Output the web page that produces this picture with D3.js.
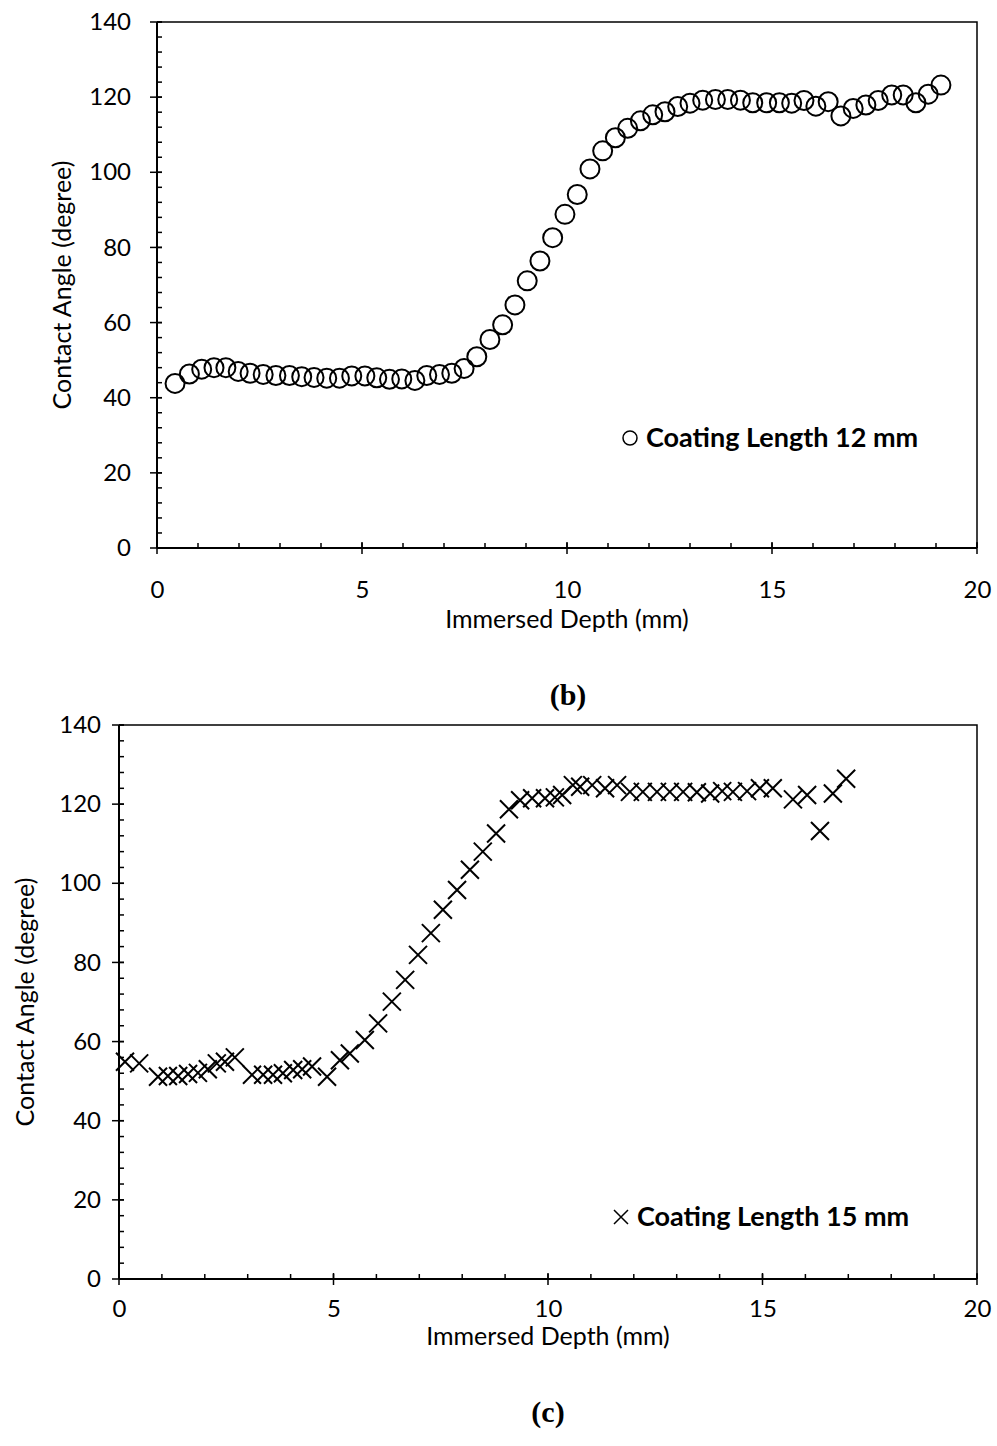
<!DOCTYPE html>
<html>
<head>
<meta charset="utf-8">
<script src="https://cdn.jsdelivr.net/npm/d3@7"></script>
<style>
  html, body { margin: 0; padding: 0; background: #fff; }
  svg { display: block; }
  .tick text { font-family: Lato, "Open Sans", sans-serif; fill: #000; }
</style>
</head>
<body>
<svg id="fig" width="997" height="1446"></svg>
<script>
// Panel (b): coating length 12 mm
const depthB = [0.44, 0.79, 1.09, 1.39, 1.68, 1.98, 2.27, 2.59, 2.90, 3.23, 3.53, 3.83, 4.14, 4.45, 4.75,
  5.07, 5.36, 5.67, 5.97, 6.29, 6.58, 6.89, 7.19, 7.49, 7.80, 8.12, 8.43, 8.73, 9.03, 9.34, 9.65, 9.95,
  10.25, 10.56, 10.87, 11.18, 11.48, 11.79, 12.09, 12.39, 12.70, 13.00, 13.31, 13.62, 13.92, 14.23, 14.53,
  14.87, 15.18, 15.48, 15.78, 16.07, 16.37, 16.68, 16.98, 17.29, 17.59, 17.92, 18.20, 18.51, 18.81, 19.12];
const angleB = [43.8, 46.3, 47.6, 48.0, 48.0, 47.0, 46.5, 46.2, 45.9, 45.9, 45.6, 45.4, 45.2, 45.2, 45.8,
  45.8, 45.3, 44.9, 45.0, 44.6, 45.9, 46.2, 46.5, 47.8, 50.9, 55.5, 59.4, 64.7, 71.1, 76.4, 82.6, 88.8,
  94.1, 100.9, 105.7, 109.2, 111.7, 113.7, 115.3, 116.1, 117.5, 118.4, 119.2, 119.4, 119.4, 119.2, 118.5,
  118.5, 118.5, 118.4, 119.1, 117.6, 118.8, 115.0, 117.0, 117.9, 119.1, 120.6, 120.6, 118.5, 120.8, 123.2];

// Panel (c): coating length 15 mm
const depthC = [0.14, 0.47, 0.91, 1.14, 1.38, 1.61, 1.84, 2.07, 2.28, 2.47, 2.70, 3.10, 3.36, 3.59, 3.82,
  4.06, 4.27, 4.50, 4.85, 5.15, 5.38, 5.73, 6.04, 6.36, 6.67, 6.97, 7.27, 7.55, 7.88, 8.18, 8.48, 8.79,
  9.09, 9.35, 9.63, 9.93, 10.16, 10.33, 10.58, 10.75, 11.03, 11.33, 11.61, 11.91, 12.21, 12.54, 12.84,
  13.15, 13.47, 13.78, 14.06, 14.31, 14.64, 14.94, 15.24, 15.71, 16.04, 16.34, 16.64, 16.95];
const angleC = [54.9, 54.5, 51.1, 51.3, 51.3, 51.8, 52.1, 53.0, 54.5, 54.9, 56.0, 51.6, 51.6, 51.6, 52.0,
  52.8, 53.0, 53.7, 51.1, 55.3, 57.0, 60.4, 64.6, 70.1, 75.6, 81.9, 87.4, 93.3, 98.3, 103.4, 108.0, 112.6,
  118.7, 121.0, 121.5, 121.5, 121.7, 122.3, 124.8, 124.4, 124.8, 124.0, 124.8, 123.1, 123.1, 123.1, 123.1,
  123.1, 123.0, 122.7, 123.3, 123.1, 123.3, 124.0, 124.0, 121.2, 122.3, 113.2, 122.7, 126.4];

const xTicks = [0, 5, 10, 15, 20];
const yTicks = [0, 20, 40, 60, 80, 100, 120, 140];
const xMinor = d3.range(0, 21, 1);
const yMinor = d3.range(0, 141, 4);
const xTitle = "Immersed Depth (mm)";
const yTitle = "Contact Angle (degree)";

const svg = d3.select("#fig");
const FONT = "Lato, 'Open Sans', sans-serif";
const TICK_FS = 24;
const TITLE_FS = 25;

function panel(cfg) {
  const x = d3.scaleLinear().domain([0, 20]).range([cfg.left, cfg.right]);
  const y = d3.scaleLinear().domain([0, 140]).range([cfg.bottom, cfg.top]);
  const g = svg.append("g");

  // frame (top and right edges of plot area)
  g.append("path")
    .attr("d", `M${x(0)},${y(140)}H${x(20)}V${y(0)}`)
    .attr("fill", "none").attr("stroke", "#000").attr("stroke-width", 1.5);

  // minor ticks (inside)
  g.selectAll(".mx").data(xMinor).join("line")
    .attr("x1", d => x(d)).attr("x2", d => x(d))
    .attr("y1", y(0)).attr("y2", y(0) - 5)
    .attr("stroke", "#000").attr("stroke-width", 1.5);
  g.selectAll(".my").data(yMinor).join("line")
    .attr("x1", x(0)).attr("x2", x(0) + 5)
    .attr("y1", d => y(d)).attr("y2", d => y(d))
    .attr("stroke", "#000").attr("stroke-width", 1.5);

  // major ticks crossing the axes
  g.selectAll(".Mx").data(xTicks).join("line")
    .attr("x1", d => x(d)).attr("x2", d => x(d))
    .attr("y1", y(0) - 6).attr("y2", y(0) + 6)
    .attr("stroke", "#000").attr("stroke-width", 1.5);
  g.selectAll(".My").data(yTicks).join("line")
    .attr("x1", x(0) - 7).attr("x2", x(0) + 5)
    .attr("y1", d => y(d)).attr("y2", d => y(d))
    .attr("stroke", "#000").attr("stroke-width", 1.5);

  // axis labels via d3 axes (tick lines hidden, drawn above)
  const ax = g.append("g").attr("transform", `translate(0,${y(0)})`)
    .call(d3.axisBottom(x).tickValues(xTicks).tickSize(0).tickPadding(cfg.xPad));
  ax.select(".domain").remove();
  ax.selectAll("text").attr("font-size", TICK_FS).attr("font-family", FONT);
  const ay = g.append("g").attr("transform", `translate(${x(0)},0)`)
    .call(d3.axisLeft(y).tickValues(yTicks).tickSize(0).tickPadding(cfg.yPad));
  ay.select(".domain").remove();
  ay.selectAll("text").attr("font-size", TICK_FS).attr("font-family", FONT);

  // axis lines
  g.append("line").attr("x1", x(0)).attr("x2", x(20)).attr("y1", y(0)).attr("y2", y(0))
    .attr("stroke", "#000").attr("stroke-width", 2);
  g.append("line").attr("x1", x(0)).attr("x2", x(0)).attr("y1", y(0)).attr("y2", y(140))
    .attr("stroke", "#000").attr("stroke-width", 2);

  // axis titles
  g.append("text").attr("x", x(10)).attr("y", cfg.xTitleY)
    .attr("text-anchor", "middle").attr("font-family", FONT).attr("font-size", TITLE_FS)
    .text(xTitle);
  g.append("text")
    .attr("transform", `translate(${cfg.yTitleX},${y(70)}) rotate(-90)`)
    .attr("text-anchor", "middle").attr("font-family", FONT).attr("font-size", TITLE_FS)
    .text(yTitle);

  return { g, x, y };
}

function cross(sel, s) {
  return sel.attr("d", `M${-s},${-s}L${s},${s}M${-s},${s}L${s},${-s}`);
}

// ---- panel (b)
const pb = panel({ left: 157, right: 977, top: 22, bottom: 548, xPad: 33, yPad: 26, xTitleY: 628, yTitleX: 71 });
pb.g.selectAll(".pt").data(depthB.map((d, i) => [d, angleB[i]])).join("circle")
  .attr("cx", d => pb.x(d[0])).attr("cy", d => pb.y(d[1])).attr("r", 9.5)
  .attr("fill", "none").attr("stroke", "#000").attr("stroke-width", 2);
pb.g.append("circle").attr("cx", 630).attr("cy", 438).attr("r", 7)
  .attr("fill", "none").attr("stroke", "#000").attr("stroke-width", 1.5);
pb.g.append("text").attr("x", 646).attr("y", 447).attr("font-family", FONT)
  .attr("font-weight", "bold").attr("font-size", 27).text("Coating Length 12 mm");

svg.append("text").attr("x", 568).attr("y", 705).attr("text-anchor", "middle")
  .attr("font-family", "'Liberation Serif', 'Times New Roman', serif").attr("font-weight", "bold")
  .attr("font-size", 30).text("(b)");

// ---- panel (c)
const pc = panel({ left: 119, right: 977, top: 725, bottom: 1279, xPad: 21, yPad: 18, xTitleY: 1345, yTitleX: 34 });
pc.g.selectAll(".pt").data(depthC.map((d, i) => [d, angleC[i]])).join("path")
  .attr("transform", d => `translate(${pc.x(d[0])},${pc.y(d[1])})`)
  .call(cross, 9)
  .attr("fill", "none").attr("stroke", "#000").attr("stroke-width", 2);
pc.g.append("path").attr("transform", "translate(621,1217)").call(cross, 7)
  .attr("fill", "none").attr("stroke", "#000").attr("stroke-width", 1.5);
pc.g.append("text").attr("x", 637).attr("y", 1226).attr("font-family", FONT)
  .attr("font-weight", "bold").attr("font-size", 27).text("Coating Length 15 mm");

svg.append("text").attr("x", 548).attr("y", 1422).attr("text-anchor", "middle")
  .attr("font-family", "'Liberation Serif', 'Times New Roman', serif").attr("font-weight", "bold")
  .attr("font-size", 30).text("(c)");
</script>
</body>
</html>
